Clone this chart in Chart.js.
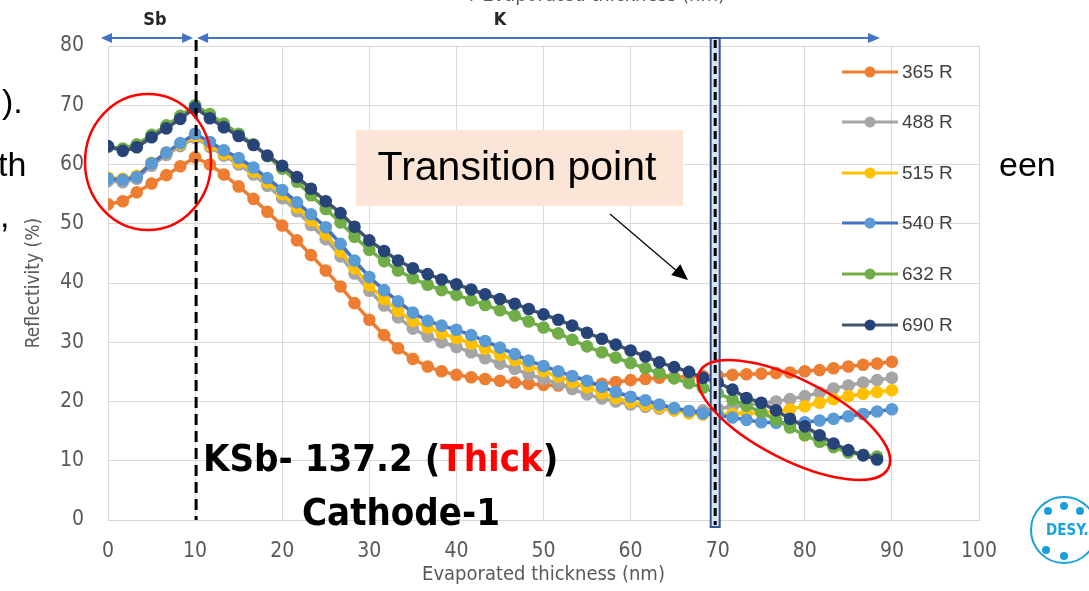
<!DOCTYPE html>
<html>
<head>
<meta charset="utf-8">
<script src="https://cdn.jsdelivr.net/npm/chart.js@4.4.0/dist/chart.umd.min.js"></script>
<style>
html, body { margin: 0; padding: 0; background: #fff; }
#wrap { position: relative; width: 1089px; height: 591px; overflow: hidden; }
</style>
</head>
<body>
<div id="wrap"><canvas id="chart"></canvas></div>
<script>
// evaporated thickness (nm) for every measurement
var thickness = [0, 1.7, 3.3, 5, 6.7, 8.3, 10, 11.7, 13.3, 15, 16.7, 18.3, 20, 21.7, 23.3, 25, 26.7, 28.3,
  30, 31.7, 33.3, 35, 36.7, 38.3, 40, 41.7, 43.3, 45, 46.7, 48.3, 50, 51.7, 53.3, 55, 56.7, 58.3,
  60, 61.7, 63.3, 65, 66.7, 68.3, 70, 71.7, 73.3, 75, 76.7, 78.3, 80, 81.7, 83.3, 85, 86.7, 88.3, 90];

var seriesNames = ['365 R', '488 R', '515 R', '540 R', '632 R', '690 R'];

var r365 = [53.3, 53.8, 55.3, 56.8, 58.2, 59.7, 61.2, 60.0, 58.3, 56.3, 54.2, 52.0, 49.7,
  47.2, 44.7, 42.1, 39.4, 36.6, 33.8, 31.2, 29.0, 27.2, 25.9, 25.1, 24.5,
  24.1, 23.8, 23.5, 23.2, 23.0, 22.8, 22.7, 22.7, 22.8, 23.0, 23.3, 23.6,
  23.8, 24.0, 24.1, 24.2, 24.3, 24.4, 24.5, 24.6, 24.7, 24.8, 24.9, 25.1,
  25.3, 25.6, 25.9, 26.2, 26.4, 26.7];
var r488 = [57.2, 57.0, 57.6, 59.8, 61.6, 63.1, 64.5, 63.0, 61.5, 60.0, 58.3, 56.4, 54.3,
  52.1, 49.8, 47.4, 44.5, 41.6, 38.7, 36.2, 34.2, 32.3, 31.0, 30.0, 29.2,
  28.3, 27.3, 26.4, 25.5, 24.6, 23.8, 23.0, 22.1, 21.2, 20.5, 20.0, 19.5,
  19.1, 18.8, 18.5, 18.4, 18.5, 18.8, 19.1, 19.4, 19.7, 20.0, 20.4, 20.9,
  21.5, 22.2, 22.7, 23.2, 23.6, 24.0];
var r515 = [57.8, 57.6, 58.1, 60.3, 62.0, 63.4, 64.8, 63.3, 61.8, 60.4, 58.8, 57.0, 55.0,
  52.8, 50.6, 48.2, 45.3, 42.5, 39.6, 37.3, 35.3, 33.6, 32.5, 31.5, 30.7,
  29.8, 28.9, 27.9, 27.0, 26.0, 25.1, 24.2, 23.3, 22.4, 21.4, 20.6, 19.9,
  19.4, 19.0, 18.5, 18.0, 17.8, 17.8, 17.9, 18.0, 18.1, 18.3, 18.7, 19.2,
  19.8, 20.4, 20.9, 21.3, 21.6, 21.9];
var r540 = [57.6, 57.4, 57.9, 60.2, 62.0, 63.6, 65.2, 63.8, 62.4, 61.1, 59.5, 57.7, 55.7,
  53.6, 51.6, 49.4, 46.6, 43.8, 41.0, 38.8, 36.9, 35.0, 33.6, 32.8, 32.1,
  31.2, 30.2, 29.1, 28.0, 26.9, 26.0, 25.1, 24.3, 23.5, 22.5, 21.6, 20.8,
  20.2, 19.5, 18.9, 18.4, 18.0, 17.7, 17.3, 16.9, 16.5, 16.4, 16.4, 16.5,
  16.8, 17.1, 17.5, 17.9, 18.3, 18.7];
var r632 = [63.0, 62.7, 63.4, 65.0, 66.6, 68.2, 70.0, 68.5, 66.9, 65.2, 63.4, 61.4, 59.3,
  57.1, 54.8, 52.5, 50.2, 47.8, 45.6, 43.7, 42.1, 40.8, 39.7, 38.8, 38.0,
  37.1, 36.3, 35.4, 34.5, 33.5, 32.5, 31.5, 30.4, 29.3, 28.3, 27.4, 26.5,
  25.6, 24.8, 23.9, 23.1, 22.3, 21.4, 20.3, 19.3, 18.2, 16.9, 15.6, 14.3,
  13.2, 12.3, 11.4, 11.0, 10.7, null];
var r690 = [63.1, 62.3, 62.9, 64.6, 66.1, 67.7, 69.6, 67.8, 66.3, 64.8, 63.3, 61.5, 59.8,
  57.9, 55.9, 53.8, 51.8, 49.5, 47.2, 45.4, 43.8, 42.5, 41.5, 40.6, 39.8,
  38.9, 38.1, 37.3, 36.5, 35.6, 34.7, 33.8, 32.8, 31.6, 30.6, 29.6, 28.6,
  27.6, 26.6, 25.8, 25.0, 24.0, 23.2, 22.0, 20.6, 19.8, 18.5, 17.1, 15.8,
  14.3, 12.9, 11.8, 10.9, 10.2, null];

var seriesValues = [r365, r488, r515, r540, r632, r690];
var lineColors = ['#ED7D31', '#A5A5A5', '#FFC000', '#4472C4', '#70AD47', '#44546A'];
var markerColors = ['#ED7D31', '#A5A5A5', '#FFC000', '#5B9BD5', '#70AD47', '#264478'];

var SANS = '"Liberation Sans", Arial, sans-serif';
var NARROW = '"Liberation Sans Narrow", "DejaVu Sans Condensed", "Liberation Sans", sans-serif';

function toPoints(values) {
	return values.map(function (v, i) { return {x: thickness[i], y: v}; });
}

var datasets = seriesNames.map(function (name, i) {
	return {
		label: name,
		data: toPoints(seriesValues[i]),
		borderColor: lineColors[i],
		backgroundColor: markerColors[i],
		pointBackgroundColor: markerColors[i],
		pointBorderWidth: 0,
		pointRadius: 6.3,
		borderWidth: 3.5,
		tension: 0,
		order: seriesNames.length - i
	};
});

function arrowHead(ctx, x, y, dir, len, half) {
	ctx.beginPath();
	ctx.moveTo(x, y);
	ctx.lineTo(x - dir * len, y - half);
	ctx.lineTo(x - dir * len, y + half);
	ctx.closePath();
	ctx.fill();
}

function ellipse(ctx, cx, cy, rx, ry, rot) {
	ctx.beginPath();
	ctx.ellipse(cx, cy, rx, ry, rot, 0, Math.PI * 2);
	ctx.stroke();
}

var slideBits = {
	id: 'slideBits',
	beforeDraw: function (chart) {
		var ctx = chart.ctx;
		ctx.save();
		ctx.fillStyle = '#000';
		ctx.font = '34px ' + SANS;
		ctx.textBaseline = 'middle';
		ctx.fillText(').', 2, 104);
		ctx.fillText('th', -2, 167);
		ctx.fillText('een', 999, 167);
		ctx.fillText(',', 0, 218);
		ctx.fillStyle = '#595959';
		ctx.font = '20px ' + NARROW;
		ctx.textAlign = 'center';
		ctx.textBaseline = 'alphabetic';
		ctx.fillText('r Evaporated thickness (nm)', 597, 1);
		ctx.restore();
	},
	afterDraw: function (chart) {
		var ctx = chart.ctx;
		var xs = chart.scales.x;
		var area = chart.chartArea;
		var x0 = xs.getPixelForValue(0), x10 = xs.getPixelForValue(10), x70 = xs.getPixelForValue(70);
		var arrowY = 38;
		ctx.save();

		// Sb / K ranges
		ctx.strokeStyle = '#4472C4';
		ctx.fillStyle = '#4472C4';
		ctx.lineWidth = 2;
		ctx.beginPath();
		ctx.moveTo(x0 - 2, arrowY); ctx.lineTo(x10 - 6, arrowY);
		ctx.moveTo(x10 + 6, arrowY); ctx.lineTo(878, arrowY);
		ctx.stroke();
		arrowHead(ctx, x0 - 7, arrowY, -1, 11, 5);
		arrowHead(ctx, x10 - 2, arrowY, 1, 11, 5);
		arrowHead(ctx, x10 + 2, arrowY, -1, 11, 5);
		arrowHead(ctx, 880, arrowY, 1, 12, 5);
		ctx.fillStyle = '#262626';
		ctx.font = 'bold 18px ' + NARROW;
		ctx.textAlign = 'center';
		ctx.textBaseline = 'middle';
		ctx.fillText('Sb', 155, 20);
		ctx.fillText('K', 500, 20);

		// end of Sb deposition
		ctx.strokeStyle = '#000';
		ctx.lineWidth = 3;
		ctx.setLineDash([11, 6]);
		ctx.beginPath();
		ctx.moveTo(x10 + 1, arrowY + 2);
		ctx.lineTo(x10 + 1, area.bottom);
		ctx.stroke();

		// transition marker
		ctx.setLineDash([]);
		ctx.fillStyle = '#DAE3F3';
		ctx.fillRect(x70 - 7, arrowY, 9, area.bottom + 7 - arrowY);
		ctx.strokeStyle = '#2F5597';
		ctx.lineWidth = 2;
		ctx.strokeRect(x70 - 7, arrowY, 9, area.bottom + 7 - arrowY);
		ctx.strokeStyle = '#000';
		ctx.lineWidth = 3;
		ctx.setLineDash([8, 5]);
		ctx.beginPath();
		ctx.moveTo(x70 - 2.5, arrowY + 2);
		ctx.lineTo(x70 - 2.5, area.bottom + 5);
		ctx.stroke();
		ctx.setLineDash([]);

		// callout
		ctx.fillStyle = '#FBE5D6';
		ctx.fillRect(356, 130, 327, 76);
		ctx.fillStyle = '#000';
		ctx.font = '41px ' + SANS;
		ctx.fillText('Transition point', 517, 169);
		ctx.strokeStyle = '#000';
		ctx.lineWidth = 1.2;
		ctx.beginPath();
		ctx.moveTo(610, 214);
		ctx.lineTo(678, 272);
		ctx.stroke();
		ctx.fillStyle = '#000';
		ctx.save();
		ctx.translate(688, 280);
		ctx.rotate(Math.atan2(66, 78));
		arrowHead(ctx, 0, 0, 1, 16, 7);
		ctx.restore();

		// highlighted regions
		ctx.strokeStyle = '#FF0000';
		ctx.lineWidth = 2.5;
		ellipse(ctx, 148, 162, 63, 68, 0);
		ellipse(ctx, 794, 420, 106, 40, 27 * Math.PI / 180);

		// sample labels
		ctx.textAlign = 'left';
		ctx.font = 'bold 38px ' + NARROW;
		ctx.fillStyle = '#000';
		var t1 = 'KSb- 137.2 (', t2 = 'Thick', t3 = ')';
		var tx = 203;
		ctx.fillText(t1, tx, 461);
		tx += ctx.measureText(t1).width;
		ctx.fillStyle = '#FF0000';
		ctx.fillText(t2, tx, 461);
		tx += ctx.measureText(t2).width;
		ctx.fillStyle = '#000';
		ctx.fillText(t3, tx, 461);
		ctx.fillText('Cathode-1', 302, 515);

		// legend
		var legendY = [72, 122, 173, 223, 274, 325];
		ctx.font = '19px ' + SANS;
		ctx.textBaseline = 'middle';
		seriesNames.forEach(function (name, i) {
			var y = legendY[i];
			ctx.strokeStyle = lineColors[i];
			ctx.lineWidth = 3;
			ctx.beginPath();
			ctx.moveTo(842, y); ctx.lineTo(898, y);
			ctx.stroke();
			ctx.fillStyle = markerColors[i];
			ctx.beginPath();
			ctx.arc(870, y, 5.5, 0, Math.PI * 2);
			ctx.fill();
			ctx.fillStyle = '#404040';
			ctx.fillText(name, 902, y + 1);
		});

		// DESY badge
		ctx.strokeStyle = '#1AA0DC';
		ctx.fillStyle = '#1AA0DC';
		ctx.lineWidth = 2;
		ctx.beginPath();
		ctx.arc(1064, 530, 33, 0, Math.PI * 2);
		ctx.stroke();
		[[1048, 511], [1064, 506], [1080, 511], [1046, 550], [1064, 556]].forEach(function (p) {
			ctx.beginPath();
			ctx.arc(p[0], p[1], 4, 0, Math.PI * 2);
			ctx.fill();
		});
		ctx.font = 'bold 15px ' + NARROW;
		ctx.fillText('DESY.', 1046, 531);
		ctx.restore();
	}
};

new Chart(document.getElementById('chart'), {
	type: 'line',
	data: {datasets: datasets},
	plugins: [slideBits],
	options: {
		responsive: true,
		maintainAspectRatio: false,
		animation: false,
		layout: {padding: {top: 46, right: 110, bottom: 0, left: 0}},
		plugins: {legend: {display: false}, tooltip: {enabled: false}},
		scales: {
			x: {
				type: 'linear',
				min: 0,
				max: 100,
				afterFit: function (s) { s.height = 71; },
				ticks: {stepSize: 10, padding: 19, color: '#595959', font: {family: NARROW, size: 21}},
				grid: {color: '#D9D9D9', drawTicks: false},
				border: {color: '#D9D9D9'},
				title: {display: true, text: 'Evaporated thickness (nm)', color: '#595959',
					font: {family: NARROW, size: 20}, padding: {top: 0, bottom: 4}}
			},
			y: {
				min: 0,
				max: 80,
				afterFit: function (s) { s.width = 108; },
				ticks: {stepSize: 10, padding: 24, color: '#595959', font: {family: NARROW, size: 21}},
				grid: {color: '#D9D9D9', drawTicks: false},
				border: {color: '#D9D9D9'},
				title: {display: true, text: 'Reflectivity (%)', color: '#595959',
					font: {family: NARROW, size: 19}, padding: {top: 23, bottom: 0}}
			}
		}
	}
});
</script>
</body>
</html>
